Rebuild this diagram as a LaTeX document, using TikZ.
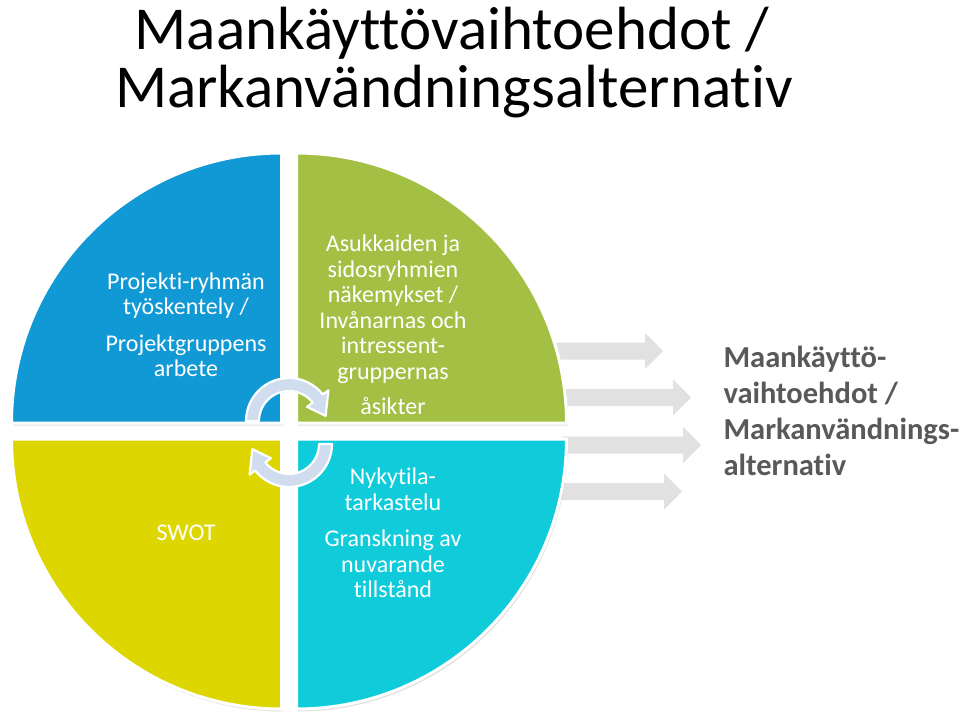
\documentclass[tikz,border=0pt]{standalone}
\usepackage{fontspec}
\setmainfont{Carlito}[Ligatures=NoCommon]
\definecolor{qblue}{RGB}{17,153,213}
\definecolor{qgreen}{RGB}{164,192,68}
\definecolor{qyellow}{RGB}{222,214,0}
\definecolor{qcyan}{RGB}{16,204,218}
\definecolor{arrowgray}{RGB}{225,225,225}
\definecolor{textgray}{RGB}{89,89,89}
\definecolor{cyclefill}{RGB}{208,221,238}
\begin{document}
\begin{tikzpicture}[x=1pt,y=-1pt,
  quad/.style={draw=white,line width=3pt},
  quadshadow/.style={fill=black,opacity=0.12},
  grayarrow/.style={fill=arrowgray},
  cyclearrow/.style={fill=cyclefill,draw=white,line width=2.2pt,line join=round},
  quadtext/.style={text=white,align=center,font=\fontsize{24}{25.5}\selectfont},
  titletext/.style={font=\fontsize{61}{61}\selectfont,text=black,anchor=base},
  sidetext/.style={text=textgray,align=left,anchor=west,font=\bfseries\fontsize{30.5}{36}\selectfont}]
\useasboundingbox (0,0) rectangle (960,722);
\fill[white] (0,0) rectangle (960,722);

% title
\node[titletext] (t1) at (452,50) {Maankäyttövaihtoehdot /};
\node[titletext] (t2) at (454,108) {Markanvändningsalternativ};

% gray arrows (behind circle)
\foreach \cy/\hs/\tp/\st in {351/645/663/550, 397.5/673/691/555, 445/683/701/562, 491.5/664/682/555}{
  \fill[grayarrow] (\st,\cy-8.5) -- (\hs,\cy-8.5) -- (\hs,\cy-18) -- (\tp,\cy)
    -- (\hs,\cy+18) -- (\hs,\cy+8.5) -- (\st,\cy+8.5) -- cycle;
}

% shadows
\begin{scope}[shift={(1.5,2.5)}]
\fill[quadshadow] (281.5,423) -- (11.5,423) arc[start angle=180,end angle=270,radius=270] -- cycle;
\fill[quadshadow] (296.5,423) -- (296.5,153) arc[start angle=270,end angle=360,radius=270] -- cycle;
\fill[quadshadow] (296.5,439) -- (566.5,439) arc[start angle=0,end angle=90,radius=270] -- cycle;
\fill[quadshadow] (281.5,439) -- (281.5,709) arc[start angle=90,end angle=180,radius=270] -- cycle;
\end{scope}

% quadrants
\filldraw[quad,fill=qblue] (281.5,423) -- (11.5,423) arc[start angle=180,end angle=270,radius=270] -- cycle;
\filldraw[quad,fill=qgreen] (296.5,423) -- (296.5,153) arc[start angle=270,end angle=360,radius=270] -- cycle;
\filldraw[quad,fill=qcyan] (296.5,439) -- (566.5,439) arc[start angle=0,end angle=90,radius=270] -- cycle;
\filldraw[quad,fill=qyellow] (281.5,439) -- (281.5,709) arc[start angle=90,end angle=180,radius=270] -- cycle;

% texts
\node[quadtext] (qa) at (186,325) {Projekti-ryhmän\\työskentely /\\[11pt]Projektgruppens\\arbete};
\node[quadtext] (qb) at (393,325) {Asukkaiden ja\\sidosryhmien\\näkemykset /\\Invånarnas och\\intressent-\\gruppernas\\[10pt]åsikter};
\node[quadtext] (qc) at (393,533) {Nykytila-\\tarkastelu\\[11pt]Granskning av\\nuvarande\\tillstånd};
\node[quadtext] (qd) at (186,533) {SWOT};

% cycle arrows
\begin{scope}[shift={(289,421)}]
\filldraw[cyclearrow] (180:43) arc[start angle=180,end angle=322,radius=43] -- (322:50) -- (352:37)
  -- (322:23) -- (322:30) arc[start angle=322,end angle=180,radius=30] -- cycle;
\end{scope}
\begin{scope}[shift={(289,444)}]
\filldraw[cyclearrow] (0:43) arc[start angle=0,end angle=142,radius=43] -- (142:50) -- (172:37)
  -- (142:23) -- (142:30) arc[start angle=142,end angle=0,radius=30] -- cycle;
\end{scope}

% side text
\node[sidetext] (res) at (720,411) {Maankäyttö-\\vaihtoehdot /\\Markanvändnings-\\alternativ};
\end{tikzpicture}
\end{document}
